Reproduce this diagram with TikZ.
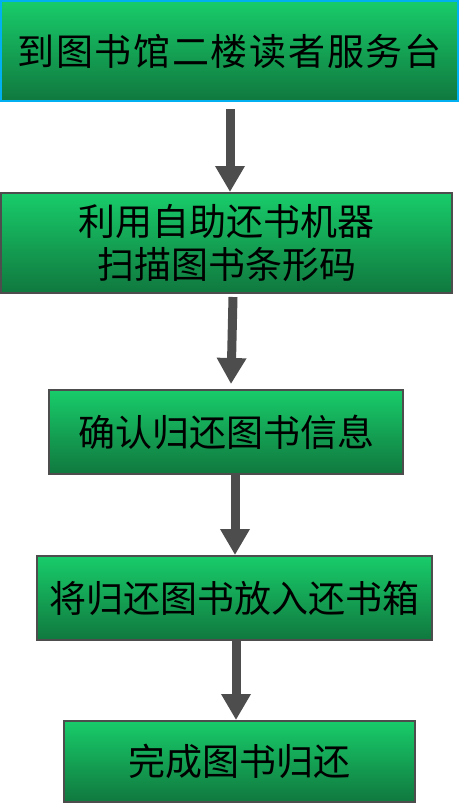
\documentclass[tikz,border=0pt]{standalone}
\usepackage{fontspec}
\usepackage{tikz}
\usetikzlibrary{arrows.meta}
\newfontfamily\cjk{Noto Sans CJK SC}
\definecolor{cTop}{RGB}{24,204,106}
\definecolor{cBot}{RGB}{16,120,62}
\definecolor{cEdge}{RGB}{77,77,77}
\definecolor{cCyan}{RGB}{0,176,240}
\definecolor{cArrow}{RGB}{77,77,77}

\begin{document}
\begin{tikzpicture}[x=1pt,y=-1pt,
  stepbox/.style={draw=cEdge,line width=2pt,top color=cTop,bottom color=cBot,
    inner sep=0pt,align=center,font=\fontsize{37}{43}\selectfont\cjk},
  flow/.style={draw=cArrow,line width=9pt,-{Triangle[width=28pt,length=26pt]}}]
\useasboundingbox (0,0) rectangle (460,804);
\node[stepbox,draw=cCyan,line width=2.5pt,minimum width=457pt,minimum height=100pt] (b1) at (229.5,51)
  {\addfontfeature{LetterSpace=4.7}到图书馆二楼读者服务台};
\node[stepbox,minimum width=451pt,minimum height=100pt] (b2) at (226.5,243)
  {利用自助还书机器\\扫描图书条形码};
\node[stepbox,minimum width=354pt,minimum height=84pt] (b3) at (226,432) {确认归还图书信息};
\node[stepbox,minimum width=395pt,minimum height=84pt] (b4) at (234.5,598) {将归还图书放入还书箱};
\node[stepbox,minimum width=351pt,minimum height=81pt] (b5) at (239.5,761.5) {完成图书归还};
\draw[flow] ([shift={(0.5,7)}]b1.south) -- ([xshift=3.5]b2.north);
\draw[flow] ([shift={(6.5,3)}]b2.south) -- ([shift={(5,-5)}]b3.north);
\draw[flow] ([xshift=9]b3.south) -- ([xshift=0.5]b4.north);
\draw[flow] ([xshift=1.5]b4.south) -- ([xshift=-3.5]b5.north);
\end{tikzpicture}
\end{document}
